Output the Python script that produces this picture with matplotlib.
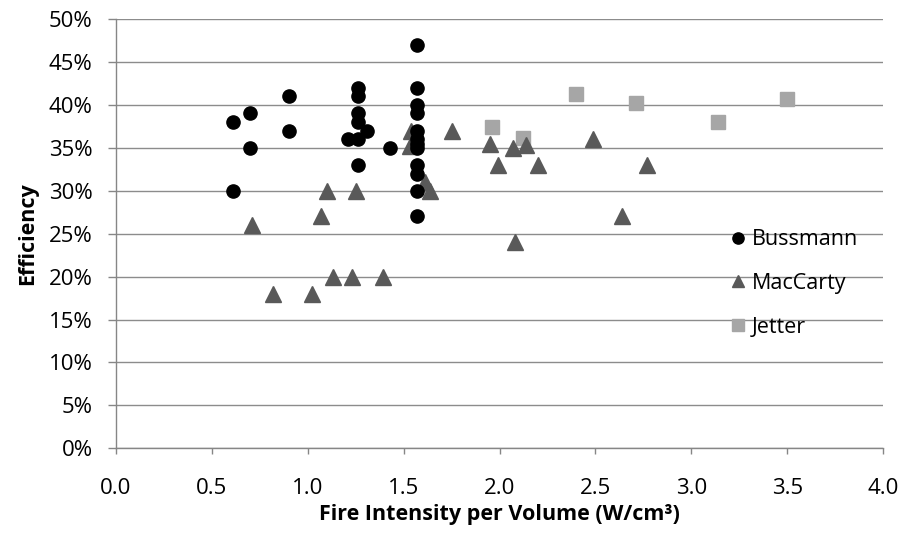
import numpy as np
import matplotlib
matplotlib.use("Agg")
from matplotlib import pyplot as plt
from matplotlib.ticker import FuncFormatter

plt.rcParams['font.family'] = ['Open Sans', 'DejaVu Sans']

# Bussmann
bus_x = [0.61, 0.61, 0.70, 0.70, 0.90, 0.90,
         1.26, 1.26, 1.26, 1.26, 1.26, 1.26, 1.21, 1.31, 1.43,
         1.57, 1.57, 1.57, 1.57, 1.57, 1.57, 1.57, 1.57, 1.57, 1.57, 1.57, 1.57]
bus_y = [38, 30, 39, 35, 41, 37,
         42, 41, 39, 38, 36, 33, 36, 37, 35,
         47, 42, 40, 39, 37, 36, 35.5, 35, 33, 32, 30, 27]

# MacCarty
mac_x = [0.71, 0.82, 1.02, 1.07, 1.10, 1.13, 1.23, 1.25, 1.39, 1.54, 1.535,
         1.61, 1.64, 1.75, 1.95, 1.99, 2.07, 2.08, 2.14, 2.20, 2.49, 2.64, 2.77]
mac_y = [26, 18, 18, 27, 30, 20, 20, 30, 20, 37, 35.2,
         31, 30, 37, 35.5, 33, 35, 24, 35.3, 33, 36, 27, 33]

# Jetter
jet_x = [1.96, 2.12, 2.40, 2.71, 3.14, 3.50]
jet_y = [37.4, 36.2, 41.3, 40.2, 38.0, 40.7]

fig = plt.figure(figsize=(9.02, 5.39), dpi=100)
ax = fig.add_axes([0.1286, 0.1683, 0.8504, 0.7964])

ax.plot(jet_x, jet_y, 's', color='#A6A6A6', ms=10.5, mec='#A6A6A6', label='Jetter', zorder=3)
ax.plot(mac_x, mac_y, '^', color='#595959', ms=11, mec='#595959', label='MacCarty', zorder=4)
ax.plot(bus_x, bus_y, 'o', color='black', ms=9.5, label='Bussmann', zorder=5)

ax.set_xlim(0, 4)
ax.set_ylim(0, 50)
ax.set_xticks(np.arange(0, 4.01, 0.5))
ax.set_yticks(np.arange(0, 51, 5))
ax.xaxis.set_major_formatter(FuncFormatter(lambda v, p: '%.1f' % v))
ax.yaxis.set_major_formatter(FuncFormatter(lambda v, p: '%d%%' % v))
ax.grid(axis='y', color='#8C8C8C', linewidth=1.0)
ax.set_axisbelow(True)
for s in ['top', 'right']:
    ax.spines[s].set_visible(False)
for s in ['left', 'bottom']:
    ax.spines[s].set_color('#868686')
    ax.spines[s].set_linewidth(1.0)
ax.tick_params(axis='x', colors='#868686', length=4.3, width=1, labelcolor='black', labelsize=16, pad=17)
ax.tick_params(axis='y', colors='#868686', length=5.8, width=1, labelcolor='black', labelsize=16, pad=11)

ax.set_xlabel('Fire Intensity per Volume (W/cm³)', fontsize=15.5, fontweight='bold', labelpad=4)
ax.set_ylabel('Efficiency', fontsize=15.5, fontweight='bold', labelpad=8)

h, l = ax.get_legend_handles_labels()
order = [2, 1, 0]
ax.legend([h[i] for i in order], [l[i] for i in order], frameon=False,
          loc='upper left', bbox_to_anchor=(0.79, 0.53), fontsize=15.5,
          handlelength=0.7, handletextpad=0.3, labelspacing=1.05, markerscale=0.85,
          borderaxespad=0)

fig.savefig('out.png', dpi=100)
